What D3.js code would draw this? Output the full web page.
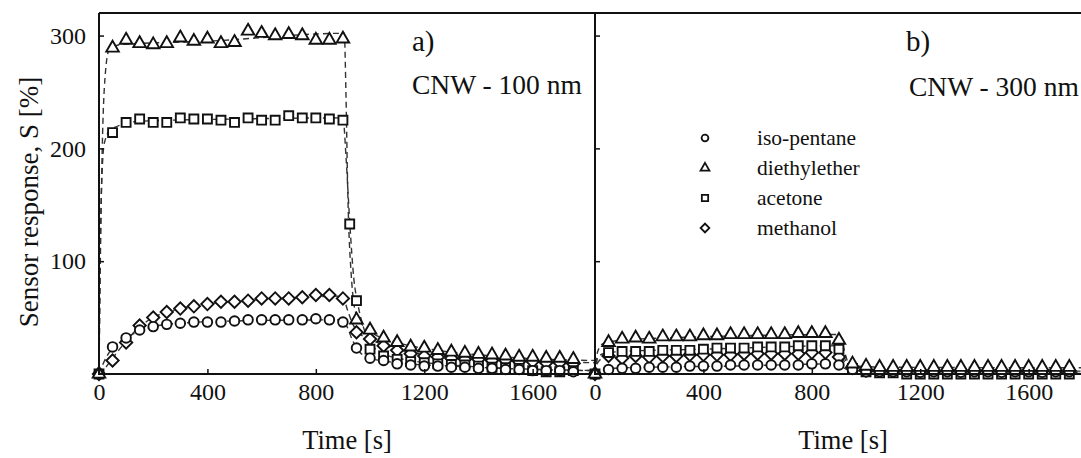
<!DOCTYPE html>
<html>
<head>
<meta charset="utf-8">
<script src="https://cdn.jsdelivr.net/npm/d3@7"></script>
<style>
  body { margin: 0; background: #fff; }
  svg { display: block; }
  text { font-family: "Liberation Serif", "Times New Roman", serif; fill: #111; }
</style>
</head>
<body>
<div id="chart"></div>
<script>
// sampling times [s], same grid in both panels
const times = [0, 50, 100, 150, 200, 250, 300, 350, 400, 450, 500, 550, 600, 650, 700, 750, 800, 850,
               900, 950, 1000, 1050, 1100, 1150, 1200, 1250, 1300, 1350, 1400, 1450, 1500, 1550, 1600, 1650, 1700, 1750];
// acetone in panel a) has one extra point during the drop
const timesAcetoneA = [0, 50, 100, 150, 200, 250, 300, 350, 400, 450, 500, 550, 600, 650, 700, 750, 800, 850,
               900, 925, 950, 1000, 1050, 1100, 1150, 1200, 1250, 1300, 1350, 1400, 1450, 1500, 1550, 1600, 1650, 1700, 1750];

// panel a) CNW - 100 nm, sensor response S [%]
const isoPentaneA   = [0, 24, 32, 39, 42, 44, 45, 46, 46, 46, 47, 48, 48, 48, 48, 48, 49, 48,
                       46, 23, 14, 12, 9, 8, 7, 7, 6, 6, 5, 5, 4, 4, 3, 3, 3, 2];
const diethyletherA = [0, 289, 296, 293, 292, 293, 298, 295, 297, 293, 294, 304, 302, 300, 301, 300, 296, 296,
                       297, 48, 39, 32, 28, 24, 23, 21, 19.5, 18.5, 17.5, 17, 16, 15, 15, 14, 14, 13];
const acetoneA      = [0, 214, 223, 226, 223, 223, 227, 226, 226, 225, 223, 227, 225, 225, 229, 227, 227, 226,
                       225, 133, 65, 22, 16, 13, 11, 10, 9, 8.5, 8, 7, 6, 5.5, 5, 3, 2, 2, 3];
const methanolA     = [0, 12, 28, 43, 50, 55, 58, 60, 62, 64, 64, 65, 67, 67, 67, 68, 70, 70,
                       67, 37, 31, 25, 21, 18, 16, 15, 14, 13, 13, 12, 12, 11, 11, 10, 10, 9];

// panel b) CNW - 300 nm
const isoPentaneB   = [0, 4, 5, 5, 6, 6, 6, 7, 7, 7, 8, 8, 8, 8, 8, 8, 9, 9,
                       8, 4, 2, 2, 2, 2, 1.5, 2, 2, 1.5, 2, 2, 1.5, 2, 2, 1.5, 2, 2];
const diethyletherB = [0, 28, 31, 32, 31, 33, 33, 33, 34, 34, 35, 35, 35, 35, 35, 36, 36, 36,
                       30, 9, 7, 6, 6, 6, 6, 6, 6, 6, 6, 6, 6, 6, 6, 6, 6, 6];
const acetoneB      = [0, 19, 20, 20, 20, 21, 21, 21, 22, 23, 23, 23, 24, 24, 24, 25, 25, 25,
                       22, 5, 2, 1, 1, 0, 0, 0, 0, 0, 0, 0, 0, 0, 0, 0, 0, 0];
const methanolB     = [0, 16, 14, 16, 15, 16, 16, 17, 17, 17, 17, 18, 18, 18, 18, 18, 19, 19,
                       15, 6, 3, 3, 3, 3, 3, 2, 3, 3, 2, 3, 3, 2, 3, 3, 2, 3];

// fitted curves (dashed), [time, S]
const fitIsoPentaneA   = [[0,0],[25,14],[50,23],[100,32],[150,38],[200,42],[300,45],[500,47],[900,48],[915,42],[935,30],[960,20],[1000,14],[1100,10],[1300,7],[1500,5],[1830,3]];
const fitDiethyletherA = [[0,0],[5,100],[12,200],[22,262],[37,287],[80,292],[400,295],[905,302],[911,250],[918,160],[930,90],[950,52],[1000,38],[1100,28],[1250,21],[1450,16],[1650,13],[1830,12]];
const fitAcetoneA      = [[0,0],[4,100],[10,170],[20,205],[45,217],[150,224],[500,226],[900,227],[912,190],[925,135],[940,85],[955,62],[975,42],[1000,28],[1050,18],[1150,12],[1300,8],[1500,5],[1830,3]];
const fitMethanolA     = [[0,0],[25,6],[50,14],[100,29],[150,42],[200,50],[300,58],[400,62],[600,66],[900,69],[915,58],[935,45],[955,37],[1000,31],[1100,22],[1300,15],[1500,12],[1830,10]];
const fitIsoPentaneB   = [[0,0],[20,3],[60,5],[200,6],[500,7],[900,9],[915,6],[940,3],[1000,2],[1830,1.5]];
const fitDiethyletherB = [[0,0],[10,20],[30,27],[100,30],[400,33],[900,35],[915,25],[935,10],[960,7],[1100,6],[1830,5.5]];
const fitAcetoneB      = [[0,0],[10,14],[30,18],[100,20],[400,22],[900,25],[915,18],[935,6],[960,3],[1100,1.5],[1830,0.5]];
const fitMethanolB     = [[0,0],[10,10],[30,14],[100,15],[400,17],[900,19],[915,13],[935,5],[960,3],[1100,3],[1830,2.5]];

const legendNames = ["iso-pentane", "diethylether", "acetone", "methanol"];
const xTicks = [0, 400, 800, 1200, 1600];
const yTicks = [0, 100, 200, 300];

const width = 1081, height = 458;
const plotTop = 13, plotBottom = 374, panelW = 496;

const svg = d3.select("#chart").append("svg")
  .attr("width", width)
  .attr("height", height);

svg.append("rect").attr("width", width).attr("height", height).attr("fill", "#fff");

const y = d3.scaleLinear().domain([0, 320]).range([plotBottom, plotTop]);

// marker shapes, keyed by gas
const shapes = {
  "iso-pentane":  { type: d3.symbolCircle,   size: 72, rot: 0 },
  "diethylether": { type: d3.symbolTriangle, size: 68, rot: 0 },
  "acetone":      { type: d3.symbolSquare,   size: 80, rot: 0 },
  "methanol":     { type: d3.symbolSquare,   size: 76, rot: 45 }
};

function drawPanel(x0, id, series, fits, showYLabels) {
  const x = d3.scaleLinear().domain([0, 1830]).range([x0, x0 + panelW]);
  const g = svg.append("g");

  g.append("clipPath").attr("id", "clip" + id)
    .append("rect").attr("x", x0).attr("y", plotTop).attr("width", panelW).attr("height", plotBottom - plotTop);

  const line = d3.line()
    .x(d => x(d[0]))
    .y(d => y(d[1]))
    .curve(d3.curveMonotoneX);

  g.append("g").attr("clip-path", `url(#clip${id})`)
    .selectAll("path")
    .data(fits)
    .join("path")
      .attr("d", line)
      .attr("fill", "none")
      .attr("stroke", "#333")
      .attr("stroke-width", 1.4)
      .attr("stroke-dasharray", "6,4");

  // markers, methanol first so circles/triangles sit on top
  series.forEach(s => {
    const sh = shapes[s.name];
    const sym = d3.symbol().type(sh.type).size(sh.size);
    g.append("g")
      .selectAll("path")
      .data(s.values.map((v, i) => [s.t[i], v]))
      .join("path")
        .attr("d", sym)
        .attr("transform", d => `translate(${x(d[0])},${y(d[1])}) rotate(${sh.rot})`)
        .attr("fill", "#fff")
        .attr("stroke", "#111")
        .attr("stroke-width", 1.9);
  });

  // axes, ticks pointing inward
  const xAxis = g.append("g")
    .attr("transform", `translate(0,${plotBottom})`)
    .call(d3.axisBottom(x).tickValues(xTicks).tickSize(-5).tickPadding(9).tickFormat(d3.format("d")));
  const yAxis = g.append("g")
    .attr("transform", `translate(${x0},0)`)
    .call(d3.axisLeft(y).tickValues(yTicks.filter(v => v > 0)).tickSize(-5).tickPadding(13)
      .tickFormat(showYLabels ? d3.format("d") : ""));

  [xAxis, yAxis].forEach(a => {
    a.select(".domain").remove();
    a.selectAll(".tick line").attr("stroke", "#111").attr("stroke-width", 1.5);
    a.selectAll(".tick text").attr("font-size", 24).attr("fill", "#111")
      .style("font-family", '"Liberation Serif", serif');
  });

  // frame: left, top and bottom lines
  g.append("path")
    .attr("d", `M${x0},${plotTop} H${x0 + panelW} M${x0},${plotTop} V${plotBottom} H${x0 + panelW}`)
    .attr("fill", "none").attr("stroke", "#111").attr("stroke-width", 2);

  g.append("text")
    .attr("x", (x0 + x0 + panelW) / 2).attr("y", 449)
    .attr("text-anchor", "middle").attr("font-size", 26.5)
    .text("Time [s]");

  return x;
}

drawPanel(99, "a", [
  { name: "methanol", t: times, values: methanolA },
  { name: "acetone", t: timesAcetoneA, values: acetoneA },
  { name: "iso-pentane", t: times, values: isoPentaneA },
  { name: "diethylether", t: times, values: diethyletherA }
], [fitIsoPentaneA, fitDiethyletherA, fitAcetoneA, fitMethanolA], true);

drawPanel(595, "b", [
  { name: "methanol", t: times, values: methanolB },
  { name: "acetone", t: times, values: acetoneB },
  { name: "iso-pentane", t: times, values: isoPentaneB },
  { name: "diethylether", t: times, values: diethyletherB }
], [fitIsoPentaneB, fitDiethyletherB, fitAcetoneB, fitMethanolB], false);

// panel captions
svg.append("text").attr("x", 412).attr("y", 51).attr("font-size", 29).text("a)");
svg.append("text").attr("x", 412).attr("y", 94).attr("font-size", 27.5).text("CNW - 100 nm");
svg.append("text").attr("x", 906).attr("y", 51).attr("font-size", 29).text("b)");
svg.append("text").attr("x", 909).attr("y", 96).attr("font-size", 27.5).text("CNW - 300 nm");

// y axis title
svg.append("text")
  .attr("transform", "translate(38,202) rotate(-90)")
  .attr("text-anchor", "middle").attr("font-size", 27)
  .text("Sensor response, S [%]");

// legend
const legend = svg.append("g").attr("transform", "translate(705,138)");
const legendRow = legend.selectAll("g")
  .data(legendNames)
  .join("g")
    .attr("transform", (d, i) => `translate(0,${i * 30})`);
legendRow.append("path")
  .attr("d", d => d3.symbol().type(shapes[d].type).size(shapes[d].size * 0.5)())
  .attr("transform", d => `rotate(${shapes[d].rot})`)
  .attr("fill", "#fff").attr("stroke", "#111").attr("stroke-width", 1.8);
legendRow.append("text")
  .attr("x", 52).attr("dy", "0.32em")
  .attr("font-size", 21.5)
  .text(d => d);
</script>
</body>
</html>
